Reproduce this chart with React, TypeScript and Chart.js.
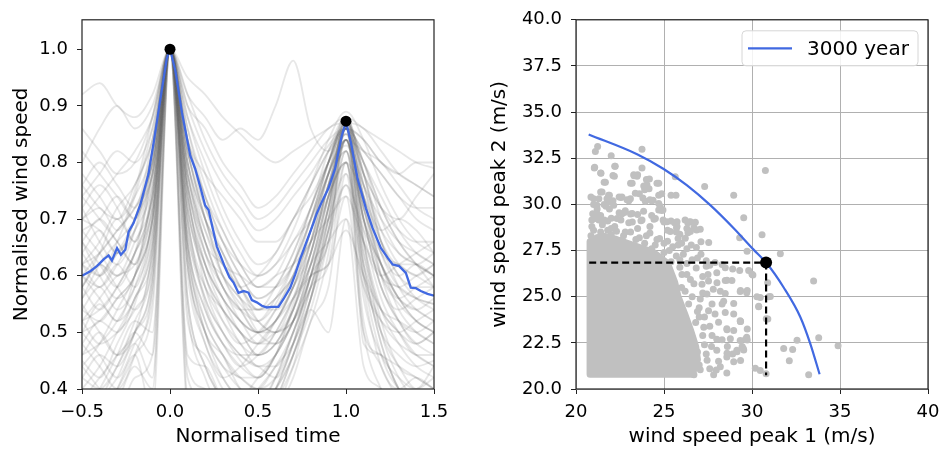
import React, { useEffect, useRef } from 'react';
import { Chart, registerables } from 'chart.js';

Chart.register(...registerables);

// ---------------- Left panel data ----------------
const T_GRID = [-0.5, -0.4, -0.3, -0.2, -0.1, 0, 0.1, 0.2, 0.3, 0.4, 0.5, 0.6, 0.7, 0.8, 0.9, 1.0, 1.1, 1.2, 1.3, 1.4, 1.5];

const GREY_RUNS: number[][] = [
  [0.62, 0.60, 0.66, 0.74, 0.86, 1, 0.82, 0.70, 0.60, 0.55, 0.52, 0.55, 0.62, 0.72, 0.80, 0.87, 0.78, 0.68, 0.62, 0.60, 0.58],
  [0.50, 0.55, 0.52, 0.60, 0.75, 1, 0.75, 0.58, 0.50, 0.45, 0.42, 0.46, 0.55, 0.66, 0.78, 0.86, 0.70, 0.58, 0.52, 0.48, 0.50],
  [0.70, 0.72, 0.68, 0.75, 0.88, 1, 0.88, 0.78, 0.70, 0.64, 0.60, 0.62, 0.68, 0.76, 0.84, 0.89, 0.84, 0.76, 0.70, 0.66, 0.64],
  [0.45, 0.42, 0.48, 0.55, 0.68, 1, 0.65, 0.50, 0.44, 0.40, 0.38, 0.42, 0.50, 0.60, 0.72, 0.84, 0.66, 0.52, 0.44, 0.42, 0.40],
  [0.58, 0.64, 0.70, 0.66, 0.80, 1, 0.80, 0.66, 0.62, 0.58, 0.60, 0.64, 0.70, 0.74, 0.80, 0.85, 0.80, 0.72, 0.66, 0.62, 0.60],
  [0.36, 0.40, 0.46, 0.52, 0.50, 1, 0.52, 0.46, 0.40, 0.36, 0.34, 0.38, 0.46, 0.56, 0.68, 0.82, 0.62, 0.48, 0.40, 0.36, 0.35],
  [0.66, 0.62, 0.58, 0.64, 0.78, 1, 0.84, 0.74, 0.66, 0.60, 0.56, 0.58, 0.64, 0.72, 0.82, 0.88, 0.76, 0.64, 0.58, 0.56, 0.55],
  [0.74, 0.78, 0.82, 0.80, 0.86, 1, 0.90, 0.82, 0.76, 0.72, 0.68, 0.70, 0.74, 0.78, 0.83, 0.86, 0.82, 0.78, 0.74, 0.72, 0.72],
  [0.55, 0.50, 0.46, 0.50, 0.65, 1, 0.70, 0.55, 0.48, 0.44, 0.46, 0.50, 0.56, 0.62, 0.74, 0.80, 0.60, 0.50, 0.46, 0.44, 0.45],
  [0.40, 0.36, 0.38, 0.44, 0.40, 1, 0.38, 0.34, 0.30, 0.30, 0.32, 0.36, 0.42, 0.52, 0.58, 0.78, 0.50, 0.40, 0.36, 0.34, 0.32],
  [0.68, 0.70, 0.74, 0.70, 0.82, 1, 0.86, 0.76, 0.68, 0.62, 0.58, 0.60, 0.66, 0.70, 0.78, 0.84, 0.82, 0.80, 0.76, 0.72, 0.70],
  [0.52, 0.56, 0.60, 0.62, 0.72, 1, 0.78, 0.64, 0.56, 0.50, 0.48, 0.50, 0.52, 0.60, 0.72, 0.88, 0.72, 0.60, 0.55, 0.52, 0.50],
  [0.92, 0.94, 0.90, 0.88, 0.92, 1, 0.95, 0.92, 0.88, 0.85, 0.82, 0.80, 0.82, 0.84, 0.86, 0.88, 0.86, 0.84, 0.82, 0.80, 0.79],
  [0.80, 0.86, 0.90, 0.86, 0.90, 1, 0.92, 0.88, 0.84, 0.86, 0.84, 0.90, 0.98, 0.86, 0.82, 0.86, 0.84, 0.80, 0.78, 0.76, 0.74],
  [0.60, 0.58, 0.62, 0.58, 0.70, 1, 0.72, 0.62, 0.56, 0.52, 0.50, 0.52, 0.58, 0.64, 0.76, 0.82, 0.70, 0.60, 0.58, 0.56, 0.55],
  [0.48, 0.52, 0.50, 0.56, 0.64, 1, 0.62, 0.50, 0.46, 0.42, 0.40, 0.44, 0.48, 0.56, 0.66, 0.76, 0.60, 0.52, 0.48, 0.46, 0.44],
  [0.76, 0.72, 0.70, 0.76, 0.84, 1, 0.86, 0.74, 0.66, 0.60, 0.56, 0.58, 0.62, 0.70, 0.80, 0.87, 0.80, 0.70, 0.64, 0.62, 0.60],
  [0.34, 0.38, 0.42, 0.48, 0.42, 1, 0.46, 0.44, 0.38, 0.36, 0.40, 0.44, 0.50, 0.58, 0.62, 0.80, 0.52, 0.44, 0.38, 0.36, 0.38],
  [0.64, 0.68, 0.64, 0.70, 0.80, 1, 0.76, 0.62, 0.54, 0.48, 0.46, 0.48, 0.54, 0.64, 0.76, 0.86, 0.74, 0.64, 0.60, 0.62, 0.60],
  [0.56, 0.60, 0.64, 0.68, 0.76, 1, 0.80, 0.68, 0.60, 0.56, 0.52, 0.50, 0.56, 0.66, 0.78, 0.88, 0.78, 0.66, 0.58, 0.54, 0.52],
  [0.86, 0.82, 0.78, 0.80, 0.88, 1, 0.90, 0.86, 0.80, 0.76, 0.72, 0.74, 0.78, 0.82, 0.86, 0.87, 0.86, 0.82, 0.78, 0.76, 0.74],
  [0.42, 0.46, 0.44, 0.50, 0.60, 1, 0.66, 0.52, 0.46, 0.40, 0.38, 0.40, 0.46, 0.56, 0.70, 0.84, 0.64, 0.50, 0.44, 0.40, 0.42],
  [0.72, 0.66, 0.62, 0.68, 0.82, 1, 0.82, 0.70, 0.62, 0.58, 0.54, 0.56, 0.60, 0.68, 0.78, 0.85, 0.76, 0.70, 0.66, 0.64, 0.62],
  [0.30, 0.34, 0.40, 0.46, 0.36, 1, 0.42, 0.38, 0.32, 0.30, 0.32, 0.36, 0.44, 0.54, 0.50, 0.70, 0.44, 0.40, 0.34, 0.30, 0.30],
  [0.62, 0.66, 0.72, 0.76, 0.84, 1, 0.84, 0.72, 0.64, 0.56, 0.50, 0.48, 0.52, 0.62, 0.74, 0.86, 0.74, 0.62, 0.56, 0.54, 0.52],
  [0.54, 0.52, 0.56, 0.60, 0.70, 1, 0.74, 0.60, 0.54, 0.50, 0.48, 0.52, 0.58, 0.68, 0.78, 0.83, 0.76, 0.68, 0.64, 0.62, 0.60],
  [0.82, 0.78, 0.74, 0.70, 0.80, 1, 0.84, 0.78, 0.74, 0.70, 0.66, 0.66, 0.70, 0.76, 0.82, 0.86, 0.78, 0.72, 0.70, 0.74, 0.78],
  [0.46, 0.48, 0.52, 0.58, 0.70, 1, 0.68, 0.56, 0.50, 0.46, 0.44, 0.46, 0.52, 0.60, 0.72, 0.86, 0.68, 0.56, 0.50, 0.46, 0.46],
  [0.66, 0.60, 0.56, 0.60, 0.72, 1, 0.78, 0.66, 0.58, 0.54, 0.50, 0.50, 0.54, 0.62, 0.66, 0.70, 0.58, 0.52, 0.50, 0.52, 0.54],
  [0.58, 0.62, 0.60, 0.64, 0.74, 1, 0.76, 0.64, 0.58, 0.52, 0.50, 0.54, 0.60, 0.66, 0.70, 0.74, 0.66, 0.60, 0.56, 0.58, 0.60],
  [0.38, 0.42, 0.46, 0.50, 0.60, 1, 0.62, 0.48, 0.42, 0.38, 0.36, 0.40, 0.48, 0.58, 0.72, 0.88, 0.66, 0.50, 0.42, 0.38, 0.36],
  [0.70, 0.74, 0.78, 0.82, 0.88, 1, 0.92, 0.84, 0.78, 0.74, 0.70, 0.72, 0.76, 0.80, 0.84, 0.86, 0.84, 0.80, 0.78, 0.80, 0.80],
  [0.52, 0.48, 0.50, 0.54, 0.62, 1, 0.64, 0.52, 0.46, 0.42, 0.42, 0.46, 0.52, 0.62, 0.74, 0.84, 0.70, 0.62, 0.56, 0.52, 0.50],
  [0.60, 0.64, 0.68, 0.72, 0.80, 1, 0.82, 0.70, 0.60, 0.54, 0.50, 0.52, 0.56, 0.60, 0.62, 0.68, 0.60, 0.54, 0.52, 0.50, 0.48],
  [0.44, 0.40, 0.36, 0.42, 0.46, 1, 0.36, 0.32, 0.34, 0.32, 0.34, 0.40, 0.48, 0.60, 0.66, 0.87, 0.48, 0.46, 0.40, 0.38, 0.40],
  [0.76, 0.80, 0.76, 0.72, 0.84, 1, 0.88, 0.80, 0.72, 0.66, 0.62, 0.64, 0.70, 0.76, 0.82, 0.86, 0.82, 0.78, 0.74, 0.70, 0.68],
  [0.48, 0.44, 0.40, 0.46, 0.58, 1, 0.60, 0.48, 0.42, 0.44, 0.48, 0.52, 0.58, 0.66, 0.76, 0.82, 0.64, 0.54, 0.50, 0.46, 0.44],
  [0.58, 0.54, 0.58, 0.64, 0.72, 1, 0.70, 0.56, 0.50, 0.46, 0.44, 0.42, 0.48, 0.58, 0.70, 0.84, 0.72, 0.62, 0.54, 0.50, 0.48],
  [0.66, 0.70, 0.66, 0.62, 0.76, 1, 0.78, 0.68, 0.62, 0.60, 0.58, 0.60, 0.62, 0.66, 0.74, 0.80, 0.74, 0.68, 0.70, 0.68, 0.64],
  [0.40, 0.44, 0.50, 0.56, 0.66, 1, 0.64, 0.50, 0.42, 0.38, 0.36, 0.38, 0.44, 0.52, 0.64, 0.86, 0.60, 0.46, 0.40, 0.38, 0.40],
  [0.54, 0.58, 0.54, 0.58, 0.68, 1, 0.72, 0.60, 0.52, 0.48, 0.50, 0.54, 0.60, 0.70, 0.80, 0.88, 0.76, 0.66, 0.60, 0.56, 0.54],
  [0.72, 0.76, 0.72, 0.66, 0.78, 1, 0.80, 0.70, 0.64, 0.58, 0.54, 0.54, 0.58, 0.66, 0.76, 0.84, 0.70, 0.62, 0.58, 0.60, 0.62],
  [0.50, 0.46, 0.42, 0.48, 0.56, 1, 0.56, 0.44, 0.38, 0.34, 0.36, 0.40, 0.46, 0.54, 0.66, 0.80, 0.56, 0.46, 0.42, 0.40, 0.44],
  [0.62, 0.58, 0.62, 0.68, 0.78, 1, 0.76, 0.66, 0.58, 0.54, 0.52, 0.56, 0.62, 0.70, 0.78, 0.85, 0.72, 0.64, 0.62, 0.60, 0.62],
  [0.44, 0.48, 0.54, 0.60, 0.70, 1, 0.70, 0.58, 0.52, 0.48, 0.44, 0.44, 0.50, 0.60, 0.74, 0.87, 0.74, 0.60, 0.52, 0.48, 0.46],
  [0.68, 0.64, 0.60, 0.66, 0.74, 1, 0.74, 0.62, 0.56, 0.52, 0.48, 0.48, 0.52, 0.60, 0.70, 0.78, 0.66, 0.60, 0.62, 0.64, 0.66],
  [0.56, 0.62, 0.66, 0.70, 0.78, 1, 0.78, 0.66, 0.58, 0.54, 0.54, 0.58, 0.64, 0.72, 0.80, 0.86, 0.80, 0.74, 0.68, 0.64, 0.62],
  [0.38, 0.36, 0.40, 0.46, 0.54, 1, 0.54, 0.42, 0.36, 0.34, 0.36, 0.42, 0.50, 0.58, 0.68, 0.82, 0.58, 0.44, 0.40, 0.42, 0.40],
  [0.60, 0.56, 0.52, 0.56, 0.66, 1, 0.68, 0.58, 0.54, 0.50, 0.46, 0.48, 0.54, 0.62, 0.72, 0.86, 0.70, 0.58, 0.52, 0.50, 0.52],
  [0.78, 0.74, 0.70, 0.74, 0.82, 1, 0.82, 0.72, 0.66, 0.62, 0.60, 0.62, 0.66, 0.72, 0.80, 0.86, 0.78, 0.72, 0.68, 0.66, 0.66],
  [0.46, 0.50, 0.46, 0.52, 0.62, 1, 0.62, 0.50, 0.44, 0.42, 0.40, 0.42, 0.48, 0.56, 0.68, 0.84, 0.66, 0.54, 0.48, 0.44, 0.42],
  [0.64, 0.60, 0.64, 0.70, 0.80, 1, 0.80, 0.70, 0.64, 0.58, 0.52, 0.50, 0.52, 0.58, 0.68, 0.76, 0.68, 0.62, 0.56, 0.54, 0.56],
  [0.52, 0.54, 0.58, 0.64, 0.74, 1, 0.72, 0.60, 0.54, 0.50, 0.46, 0.48, 0.54, 0.64, 0.76, 0.86, 0.70, 0.58, 0.54, 0.56, 0.58],
  [0.42, 0.40, 0.44, 0.50, 0.46, 1, 0.44, 0.40, 0.36, 0.38, 0.42, 0.46, 0.52, 0.60, 0.62, 0.74, 0.50, 0.46, 0.44, 0.42, 0.40],
  [0.70, 0.68, 0.64, 0.70, 0.82, 1, 0.84, 0.74, 0.68, 0.62, 0.58, 0.58, 0.62, 0.70, 0.80, 0.87, 0.80, 0.72, 0.66, 0.62, 0.58],
  [0.58, 0.62, 0.58, 0.54, 0.64, 1, 0.66, 0.54, 0.48, 0.44, 0.42, 0.46, 0.54, 0.64, 0.76, 0.84, 0.72, 0.62, 0.56, 0.52, 0.50],
  [0.34, 0.38, 0.44, 0.50, 0.58, 1, 0.56, 0.44, 0.38, 0.34, 0.34, 0.38, 0.46, 0.56, 0.70, 0.86, 0.62, 0.48, 0.40, 0.36, 0.36],
  [0.50, 0.52, 0.56, 0.60, 0.70, 1, 0.66, 0.54, 0.48, 0.46, 0.46, 0.50, 0.56, 0.64, 0.74, 0.80, 0.62, 0.54, 0.50, 0.48, 0.50],
  [0.62, 0.64, 0.68, 0.72, 0.78, 1, 0.74, 0.62, 0.56, 0.52, 0.50, 0.52, 0.58, 0.68, 0.80, 0.88, 0.78, 0.66, 0.60, 0.58, 0.58],
  [0.74, 0.70, 0.66, 0.62, 0.74, 1, 0.76, 0.64, 0.60, 0.56, 0.54, 0.56, 0.60, 0.68, 0.78, 0.84, 0.74, 0.66, 0.62, 0.62, 0.64],
];

const BLUE_T = [
  -0.5, -0.453, -0.415, -0.377, -0.349, -0.330, -0.301, -0.279, -0.254, -0.235, -0.207, -0.169, -0.122, -0.093, -0.055, -0.018, 0,
  0.030, 0.068, 0.115, 0.143, 0.172, 0.200, 0.219, 0.266, 0.314, 0.338, 0.361, 0.389, 0.418, 0.446, 0.465, 0.493, 0.522, 0.550,
  0.578, 0.616, 0.645, 0.683, 0.711, 0.739, 0.777, 0.815, 0.834, 0.862, 0.900, 0.938, 0.976, 1.0,
  1.028, 1.066, 1.113, 1.151, 1.198, 1.236, 1.265, 1.302, 1.340, 1.368, 1.397, 1.425, 1.463, 1.5,
];
const BLUE_V = [
  0.600, 0.608, 0.617, 0.629, 0.636, 0.627, 0.649, 0.637, 0.646, 0.678, 0.693, 0.725, 0.780, 0.835, 0.911, 0.984, 1.0,
  0.963, 0.888, 0.812, 0.789, 0.757, 0.724, 0.716, 0.652, 0.614, 0.597, 0.588, 0.570, 0.573, 0.570, 0.557, 0.553, 0.547, 0.544,
  0.545, 0.545, 0.559, 0.579, 0.602, 0.629, 0.661, 0.693, 0.710, 0.730, 0.754, 0.789, 0.847, 0.872,
  0.835, 0.771, 0.719, 0.684, 0.649, 0.632, 0.620, 0.617, 0.605, 0.579, 0.578, 0.573, 0.568, 0.565,
];
const PEAK_T = [0, 1];
const PEAK_V = [1.0, 0.873];

// ---------------- Right panel data ----------------
const CONTOUR_X = [20.72, 23.47, 24.98, 26.31, 27.63, 28.96, 30.09, 30.80, 31.80, 32.75, 33.31, 33.84];
const CONTOUR_Y = [33.79, 32.72, 31.92, 31.03, 29.96, 28.71, 27.55, 26.85, 25.50, 23.89, 22.46, 20.80];
const DESIGN_X = 30.8;
const DESIGN_Y = 26.85;
const AXIS_START = 20.75;
const LEGEND_LABEL = '3000 year';

// outline of the densely packed part of the sample cloud (point centres)
const CORE_OUTLINE: [number, number][] = [
  [20.8, 20.8], [26.6, 20.8], [26.9, 21.6], [26.8, 22.3], [26.5, 23.2], [26.2, 24.0], [25.8, 25.0],
  [25.6, 25.8], [25.2, 26.8], [24.4, 27.4], [23.2, 27.8], [22.3, 28.1], [21.5, 28.3], [20.8, 28.0],
];

const SAMPLE_POINTS: [number, number][] = [
  [21.23, 33.13], [21.10, 32.86], [22.0, 32.63], [23.75, 32.99], [22.23, 32.06], [21.04, 31.97], [23.75, 31.97],
  [21.42, 31.69], [22.18, 31.53], [23.28, 31.60], [23.47, 31.53], [24.17, 31.38], [21.67, 31.20], [23.19, 31.15],
  [24.70, 31.15], [24.03, 31.06], [27.31, 30.97], [21.48, 30.67], [23.60, 30.58], [24.15, 30.85], [24.87, 30.58],
  [25.68, 30.49], [28.96, 30.49], [21.0, 30.31], [21.76, 30.31], [22.61, 30.40], [23.09, 30.31], [23.94, 30.17],
  [24.38, 30.22], [21.19, 29.96], [22.14, 29.96], [24.94, 29.69], [22.75, 29.56], [23.19, 29.51], [23.84, 29.63],
  [24.51, 29.24], [25.17, 29.06], [25.74, 29.06], [26.5, 29.06], [26.78, 29.03], [29.53, 29.28], [21.1, 29.24],
  [22.33, 29.24], [27.06, 28.65], [29.3, 28.2], [30.57, 28.35], [26.5, 28.53], [25.74, 28.8], [25.36, 28.53],
  [26.21, 28.17], [27.54, 27.94], [26.84, 27.67], [31.61, 27.33], [30.76, 31.83], [29.72, 27.46], [25.64, 31.5],
  [21.9, 30.5], [22.1, 30.2], [22.55, 30.38], [23.0, 30.2], [24.3, 30.2], [24.78, 29.9], [21.2, 29.75],
  [21.9, 29.75], [22.6, 29.48], [23.1, 29.48], [24.87, 29.67], [23.69, 29.12], [24.43, 29.2], [25.0, 29.05],
  [25.6, 29.0], [26.35, 29.0], [26.85, 28.61], [25.71, 28.74], [25.9, 28.38], [26.36, 28.47], [21.5, 28.9],
  [22.0, 28.7], [22.8, 28.5], [23.0, 29.0], [22.2, 28.8], [23.4, 28.1], [24.0, 28.3], [24.6, 28.1], [25.2, 28.0],
  [25.8, 27.8], [26.3, 27.6], [24.3, 27.6], [25.0, 27.4], [25.7, 27.2], [26.6, 27.0], [27.1, 27.3], [27.6, 26.7],
  [21.4, 29.4], [20.9, 28.8], [21.8, 29.1], [23.5, 28.7], [24.2, 28.8], [20.95, 29.5], [21.6, 30.0],
  [21.06, 32.01], [22.2, 32.06], [21.4, 31.7], [22.1, 31.57], [23.3, 31.55], [23.5, 31.6], [24.0, 31.35],
  [24.6, 31.15], [21.6, 31.2], [23.1, 31.15], [23.85, 31.0], [21.4, 30.67], [20.85, 30.4], [21.3, 30.3],
  [21.85, 30.5], [21.9, 30.15], [22.45, 30.4], [22.9, 30.25], [23.37, 30.6], [23.9, 30.8], [23.8, 30.35],
  [24.2, 30.25], [24.7, 30.5], [25.4, 30.5], [24.7, 30.05], [21.0, 30.0], [21.7, 29.9], [21.2, 29.5],
  [22.45, 29.55], [22.8, 29.65], [23.5, 29.45], [24.3, 29.4], [24.7, 29.7], [20.9, 29.15], [21.3, 29.15],
  [21.6, 29.15], [22.0, 29.25], [22.55, 29.15], [23.2, 29.05], [23.75, 29.15], [24.95, 29.15], [25.4, 29.1],
  [26.2, 29.15], [26.45, 29.05], [26.7, 28.75], [26.3, 28.7], [25.2, 28.6], [25.7, 28.5], [25.8, 28.15],
  [26.55, 27.8], [27.1, 27.97], [24.2, 28.45], [24.75, 28.15], [25.3, 27.5], [26.1, 27.3], [26.9, 27.1],
  [27.4, 26.95], [27.9, 26.85], [28.3, 26.75], [21.0, 28.6], [21.4, 28.5], [21.8, 28.6], [22.3, 28.55],
  [22.7, 28.3], [23.1, 28.5], [23.6, 28.2], [23.9, 27.9], [24.5, 27.8], [25.0, 27.9], [25.5, 27.7], [26.0, 27.9],
  [25.4, 26.9], [25.9, 26.6], [26.3, 26.2], [26.7, 25.7], [26.2, 25.3], [26.6, 25.0], [27.2, 25.2], [27.0, 24.4],
  [26.8, 23.6], [27.3, 23.9], [27.6, 23.4], [27.2, 22.9], [27.7, 22.3], [27.4, 21.9], [27.0, 21.3], [27.6, 21.1],
  [28.1, 21.5], [28.9, 21.9], [28.0, 22.7], [28.6, 22.3], [28.3, 24.6], [28.2, 25.3], [27.8, 25.4], [27.5, 26.2],
  [28.0, 26.3], [28.9, 26.5], [20.85, 28.3], [21.2, 28.2], [22.0, 28.35], [22.6, 28.05],
  [26.83, 26.56], [27.4, 26.65], [26.02, 26.2], [26.5, 25.93], [27.16, 25.67], [27.53, 25.85], [28.48, 25.88],
  [28.86, 25.88], [28.48, 25.17], [29.33, 25.28], [29.7, 25.22], [27.06, 24.87], [27.73, 24.6], [28.96, 24.63],
  [27.53, 24.24], [27.9, 24.06], [28.48, 24.15], [28.96, 24.06], [28.1, 23.61], [28.57, 23.26], [28.96, 23.17],
  [29.33, 23.7], [27.26, 23.35], [27.73, 22.9], [28.3, 22.67], [28.77, 22.72], [29.33, 22.63], [29.7, 22.81],
  [28.0, 22.1], [28.57, 21.74], [29.14, 22.1], [29.5, 22.19], [28.96, 21.47], [28.2, 21.2], [27.45, 21.56],
  [28.57, 20.86], [27.06, 21.04], [27.82, 20.77], [26.7, 20.77],
  [28.48, 26.57], [29.30, 26.42], [30.0, 26.21], [28.58, 25.89], [33.50, 25.85], [28.01, 25.76], [27.44, 25.14],
  [30.28, 25.0], [31.04, 25.01], [28.39, 24.75], [30.38, 24.48], [30.89, 25.76], [30.81, 23.80], [29.34, 23.66],
  [28.58, 23.21], [29.62, 22.68], [33.79, 22.77], [32.56, 22.64], [31.80, 22.19], [32.31, 22.14], [34.89, 22.34],
  [32.12, 21.53], [29.15, 22.02], [29.53, 22.11], [28.58, 21.93], [30.19, 21.12], [30.47, 21.0], [30.80, 20.82],
  [33.22, 20.77], [27.97, 21.03],
  [29.81, 26.42], [30.05, 26.17], [29.73, 25.33], [29.35, 25.33], [30.47, 24.95], [30.95, 25.0], [30.38, 24.45],
  [30.9, 23.79], [29.35, 23.65], [29.73, 23.25], [29.73, 22.66], [29.44, 22.3], [29.35, 21.55], [27.2, 26.1],
  [26.3, 26.8], [25.9, 27.0], [26.9, 22.0], [26.4, 24.6], [26.0, 25.5], [27.0, 23.9], [27.3, 22.4], [26.9, 24.2],
];

// ---------------- Styling helpers ----------------
const FONT = 'DejaVu Sans';
const BLUE = '#4169e1';
const SAMPLE_GREY = '#c0c0c0';
const SPINE = '#222222';

const tickFont = { family: FONT, size: 18 };
const titleFont = { family: FONT, size: 20, lineHeight: 1.2 };

const framePlugin = {
  id: 'frame',
  afterDatasetsDraw(chart: any) {
    const { ctx, chartArea: a } = chart;
    ctx.save();
    ctx.strokeStyle = SPINE;
    ctx.lineWidth = 1.2;
    ctx.strokeRect(a.left, a.top, a.right - a.left, a.bottom - a.top);
    ctx.restore();
  },
};

const corePlugin = {
  id: 'core',
  beforeDatasetsDraw(chart: any) {
    const { ctx } = chart;
    const xs = chart.scales.x;
    const ys = chart.scales.y;
    ctx.save();
    ctx.beginPath();
    CORE_OUTLINE.forEach(([vx, vy], i) => {
      const px = xs.getPixelForValue(vx);
      const py = ys.getPixelForValue(vy);
      if (i === 0) ctx.moveTo(px, py);
      else ctx.lineTo(px, py);
    });
    ctx.closePath();
    ctx.fillStyle = SAMPLE_GREY;
    ctx.fill();
    ctx.lineJoin = 'round';
    ctx.lineWidth = 7;
    ctx.strokeStyle = SAMPLE_GREY;
    ctx.stroke();
    ctx.restore();
  },
};

const legendPlugin = {
  id: 'customLegend',
  afterDraw(chart: any) {
    const { ctx, chartArea: a } = chart;
    const w = 176;
    const h = 35;
    const x = a.right - 10 - w;
    const y = a.top + 11;
    ctx.save();
    ctx.beginPath();
    if ((ctx as any).roundRect) (ctx as any).roundRect(x, y, w, h, 4);
    else ctx.rect(x, y, w, h);
    ctx.fillStyle = 'rgba(255,255,255,0.85)';
    ctx.fill();
    ctx.strokeStyle = '#d6d6d6';
    ctx.lineWidth = 1;
    ctx.stroke();
    ctx.beginPath();
    ctx.moveTo(x + 6, y + h / 2);
    ctx.lineTo(x + 50, y + h / 2);
    ctx.strokeStyle = BLUE;
    ctx.lineWidth = 2.2;
    ctx.stroke();
    ctx.fillStyle = '#000';
    ctx.font = `20px "${FONT}"`;
    ctx.textBaseline = 'middle';
    ctx.textAlign = 'left';
    ctx.fillText(LEGEND_LABEL, x + 65, y + h / 2 + 1);
    ctx.restore();
  },
};

const fmtSigned = (v: number, d: number) => (v < 0 ? '\u2212' + Math.abs(v).toFixed(d) : v.toFixed(d));

function axis(opts: any) {
  const { min, max, step, title, fmt, fit, grid, titlePad, tickPad } = opts;
  return {
    type: 'linear',
    min,
    max,
    border: { display: false },
    grid: grid
      ? { display: true, drawOnChartArea: true, color: '#b0b0b0', lineWidth: 1, tickColor: SPINE, tickLength: 5 }
      : { display: true, drawOnChartArea: false, tickColor: SPINE, tickLength: 5 },
    ticks: {
      stepSize: step,
      includeBounds: false,
      autoSkip: false,
      maxRotation: 0,
      color: '#000',
      font: tickFont,
      padding: tickPad,
      callback: (v: any) => fmt(Number(v)),
    },
    title: { display: true, text: title, color: '#000', font: titleFont, padding: titlePad },
    afterFit: fit,
  };
}

const fitX = (s: any) => {
  s.height = 61;
  s.paddingLeft = 0;
  s.paddingRight = 0;
};

function LeftChart() {
  const ref = useRef<HTMLCanvasElement>(null);
  useEffect(() => {
    if (!ref.current) return;
    const greySets = GREY_RUNS.map((run) => ({
      data: run.map((v, i) => ({ x: T_GRID[i], y: v })),
      showLine: true,
      borderColor: 'rgba(95,95,95,0.15)',
      borderWidth: 1.8,
      pointRadius: 0,
      cubicInterpolationMode: 'monotone',
      order: 10,
    }));
    const chart = new Chart(ref.current, {
      type: 'scatter',
      data: {
        datasets: [
          ...greySets,
          {
            data: BLUE_T.map((t, i) => ({ x: t, y: BLUE_V[i] })),
            showLine: true,
            borderColor: BLUE,
            borderWidth: 2.3,
            pointRadius: 0,
            tension: 0,
            order: 2,
          },
          {
            data: PEAK_T.map((t, i) => ({ x: t, y: PEAK_V[i] })),
            showLine: false,
            pointRadius: 5.5,
            backgroundColor: '#000',
            borderWidth: 0,
            order: 1,
          },
        ] as any,
      },
      options: {
        responsive: false,
        animation: false,
        events: [],
        layout: { padding: { left: 0, right: 36, top: 16, bottom: 0 } },
        plugins: { legend: { display: false }, tooltip: { enabled: false } },
        scales: {
          x: axis({
            min: -0.5, max: 1.5, step: 0.5, title: 'Normalised time', fmt: (v: number) => fmtSigned(v, 1),
            fit: fitX, grid: false, titlePad: { top: 0, bottom: 1 }, tickPad: 8,
          }),
          y: axis({
            min: 0.4, max: 1.052, step: 0.1, title: 'Normalised wind speed', fmt: (v: number) => v.toFixed(1),
            fit: (s: any) => { s.width = 82; }, grid: false, titlePad: { top: 10, bottom: 0 }, tickPad: 9,
          }),
        } as any,
      },
      plugins: [framePlugin],
    });
    return () => chart.destroy();
  }, []);
  return <canvas ref={ref} width={470} height={450} style={{ position: 'absolute', left: 0, top: 0, display: 'block' }} />;
}

function RightChart() {
  const ref = useRef<HTMLCanvasElement>(null);
  useEffect(() => {
    if (!ref.current) return;
    const chart = new Chart(ref.current, {
      type: 'scatter',
      data: {
        datasets: [
          {
            data: SAMPLE_POINTS.map(([x, y]) => ({ x, y })),
            pointRadius: 3.5,
            backgroundColor: SAMPLE_GREY,
            borderWidth: 0,
            order: 5,
          },
          {
            label: LEGEND_LABEL,
            data: CONTOUR_X.map((x, i) => ({ x, y: CONTOUR_Y[i] })),
            showLine: true,
            borderColor: BLUE,
            borderWidth: 2.2,
            pointRadius: 0,
            cubicInterpolationMode: 'monotone',
            order: 3,
          },
          {
            data: [{ x: AXIS_START, y: DESIGN_Y }, { x: DESIGN_X, y: DESIGN_Y }],
            showLine: true,
            borderColor: '#000',
            borderWidth: 2.2,
            borderDash: [7, 4],
            pointRadius: 0,
            order: 2,
          },
          {
            data: [{ x: DESIGN_X, y: DESIGN_Y }, { x: DESIGN_X, y: AXIS_START }],
            showLine: true,
            borderColor: '#000',
            borderWidth: 2.2,
            borderDash: [7, 4],
            pointRadius: 0,
            order: 2,
          },
          {
            data: [{ x: DESIGN_X, y: DESIGN_Y }],
            pointRadius: 6,
            backgroundColor: '#000',
            borderWidth: 0,
            order: 1,
          },
        ] as any,
      },
      options: {
        responsive: false,
        animation: false,
        events: [],
        layout: { padding: { left: 0, right: 13, top: 16, bottom: 0 } },
        plugins: { legend: { display: false }, tooltip: { enabled: false } },
        scales: {
          x: axis({
            min: 20, max: 40, step: 5, title: 'wind speed peak 1 (m/s)', fmt: (v: number) => v.toFixed(0),
            fit: fitX, grid: true, titlePad: { top: 0, bottom: 1 }, tickPad: 8,
          }),
          y: axis({
            min: 20, max: 40, step: 2.5, title: 'wind speed peak 2 (m/s)', fmt: (v: number) => v.toFixed(1),
            fit: (s: any) => { s.width = 106; }, grid: true, titlePad: { top: 18, bottom: 0 }, tickPad: 9,
          }),
        } as any,
      },
      plugins: [corePlugin, framePlugin, legendPlugin],
    });
    return () => chart.destroy();
  }, []);
  return <canvas ref={ref} width={471} height={450} style={{ position: 'absolute', left: 470, top: 0, display: 'block' }} />;
}

export default function App() {
  return (
    <div style={{ position: 'absolute', left: 0, top: 0, width: 941, height: 450, background: '#fff', overflow: 'hidden' }}>
      <LeftChart />
      <RightChart />
    </div>
  );
}
